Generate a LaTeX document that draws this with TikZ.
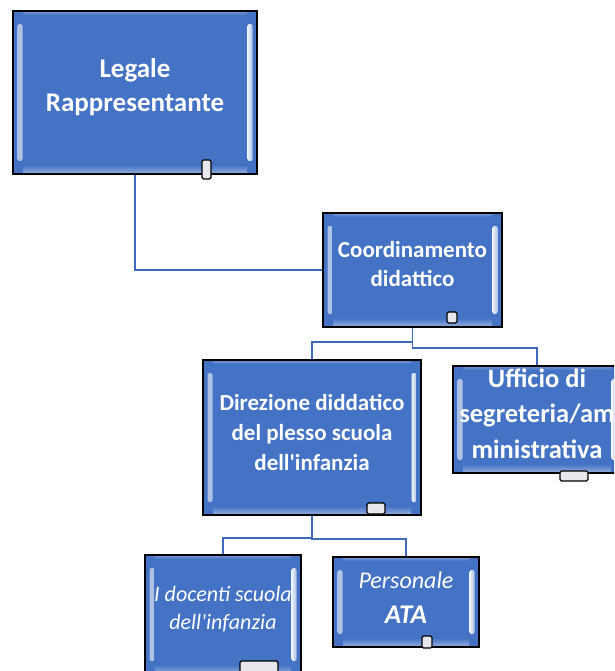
\documentclass[tikz,border=0pt]{standalone}
\usepackage{fontspec}
\setmainfont{Carlito}
\usetikzlibrary{calc}
\definecolor{boxblue}{HTML}{4472C4}
\definecolor{linkblue}{HTML}{3F69BC}
\definecolor{tabgray}{HTML}{E6E8EE}
\begin{document}
\begin{tikzpicture}[x=1pt,y=-1pt,
  orgbox/.style={rectangle, draw=black, line width=1.3pt, fill=boxblue, inner sep=0pt,
    path picture={
      \shade[left color=boxblue!45!white, right color=white!92!boxblue, rounded corners=2pt]
        ([xshift=4.5pt,yshift=-13pt]path picture bounding box.north west) rectangle
        ([xshift=9.5pt,yshift=13pt]path picture bounding box.south west);
      \shade[right color=boxblue!45!white, left color=white!92!boxblue, rounded corners=2pt]
        ([xshift=-4.5pt,yshift=-13pt]path picture bounding box.north east) rectangle
        ([xshift=-9.5pt,yshift=13pt]path picture bounding box.south east);
      \shade[top color=boxblue, bottom color=boxblue!55!white]
        ([xshift=10pt,yshift=9pt]path picture bounding box.south west) rectangle
        ([xshift=-10pt]path picture bounding box.south east);
      \shade[bottom color=boxblue, top color=boxblue!70!white]
        ([xshift=10pt]path picture bounding box.north west) rectangle
        ([xshift=-10pt,yshift=-4pt]path picture bounding box.north east);
    }},
  tabbox/.style={rectangle, draw=black, line width=1.2pt, fill=tabgray, rounded corners=1.5pt, inner sep=0pt},
  lbl/.style={text=white, align=center, inner sep=0pt},
  link/.style={draw=linkblue, line width=1.9pt}]
\useasboundingbox (0,0) rectangle (614,671);
\clip (0,0) rectangle (614,671);

% boxes
\node[orgbox, minimum width=244pt, minimum height=163pt] (legal) at (135,92.5) {};
\node[orgbox, minimum width=179pt, minimum height=114pt] (coord) at (412.5,270) {};
\node[orgbox, minimum width=218pt, minimum height=155pt] (dir) at (312,437.5) {};
\node[orgbox, minimum width=168pt, minimum height=107pt] (uff) at (537,419.5) {};
\node[orgbox, minimum width=156pt, minimum height=119pt] (doc) at (223,614.5) {};
\node[orgbox, minimum width=146pt, minimum height=90pt] (pers) at (406,602) {};

% connectors
\draw[link] (legal.south) |- (coord.west);
\draw[link] (coord.south) -- ++(0,14) -| (dir.north);
\draw[link] (coord.south) -- ++(0,20) -| (uff.north);
\draw[link] (dir.south) -- ++(0,22) -| (doc.north);
\draw[link] (dir.south) -- ++(0,23) -| (pers.north);

% labels
\node[lbl, font=\bfseries\fontsize{27}{34}\selectfont] (legal-t) at ([yshift=5pt]legal.center) {Legale\\Rappresentante};
\node[lbl, font=\bfseries\fontsize{23}{29}\selectfont] (coord-t) at ([yshift=5.5pt]coord.center) {Coordinamento\\didattico};
\node[lbl, font=\bfseries\fontsize{23}{30}\selectfont] (dir-t) at ([yshift=5.5pt]dir.center) {Direzione diddatico\\del plesso scuola\\dell\textquotesingle infanzia};
\node[lbl, font=\bfseries\fontsize{26.5}{35.5}\selectfont] (uff-t) at ([yshift=6pt]uff.center) {Ufficio di\\segreteria/am\\ministrativa};
\node[lbl, font=\itshape\fontsize{22}{28}\selectfont] (doc-t) at ([yshift=5.5pt]doc.center) {I docenti scuola\\dell\textquotesingle infanzia};
\node[lbl, font=\itshape\fontsize{24}{35}\selectfont] (pers-t) at ([yshift=4.5pt]pers.center) {Personale\\{\bfseries\fontsize{27}{35}\selectfont ATA}};

% tabs
\node[tabbox, minimum width=9pt, minimum height=19pt] (legal-tab) at (206.5,169.5) {};
\node[tabbox, minimum width=10pt, minimum height=11pt] (coord-tab) at (452,317.5) {};
\node[tabbox, minimum width=18pt, minimum height=11pt] (dir-tab) at (376,508.5) {};
\node[tabbox, minimum width=28pt, minimum height=10pt] (uff-tab) at (574,476) {};
\node[tabbox, minimum width=38pt, minimum height=22pt] (doc-tab) at (259,672) {};
\node[tabbox, minimum width=10pt, minimum height=12pt] (pers-tab) at (427,642) {};
\end{tikzpicture}
\end{document}
